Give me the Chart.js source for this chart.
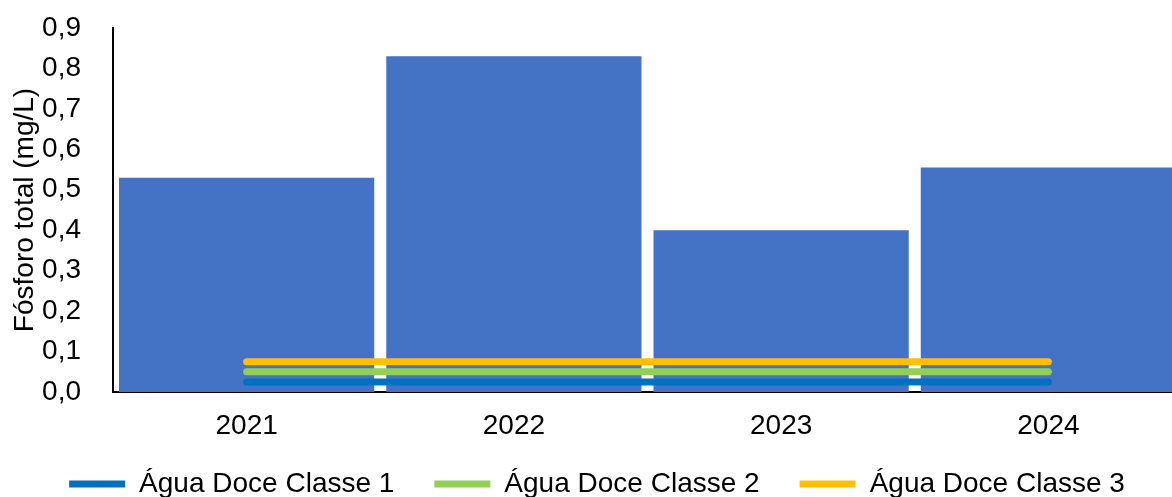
<!DOCTYPE html>
<html>
<head>
<meta charset="utf-8">
<script src="https://cdn.jsdelivr.net/npm/chart.js@4.4.1/dist/chart.umd.min.js"></script>
<style>
  html, body { margin: 0; padding: 0; background: #fff; overflow: hidden; }
  #wrap { width: 1182px; height: 497px; }
</style>
</head>
<body>
<div id="wrap"><canvas id="chart"></canvas></div>
<script>
const years = ['2021', '2022', '2023', '2024']
const fosforo = [0.53, 0.83, 0.40, 0.555]
const classe1 = [0.025, 0.025, 0.025, 0.025]
const classe2 = [0.05, 0.05, 0.05, 0.05]
const classe3 = [0.075, 0.075, 0.075, 0.075]
const yTicks = [0, 0.1, 0.2, 0.3, 0.4, 0.5, 0.6, 0.7, 0.8, 0.9]

const font = 'Liberation Sans, Arial, sans-serif'

const limitLine = (label, data, color) => ({
    type: 'line',
    label,
    data,
    borderColor: color,
    backgroundColor: color,
    borderWidth: 7,
    borderCapStyle: 'round',
    pointRadius: 0,
    pointStyle: 'line',
    order: 0,
})

// legend sits low and tight, like the excel one
const legendPlace = {
    id: 'legendPlace',
    beforeInit(chart) {
        const legend = chart.legend
        const fit = legend.fit
        legend.fit = function () {
            fit.call(this)
            this.height = 55
        }
    },
    afterLayout(chart) {
        const legend = chart.legend
        legend.top -= 12
        legend.left += 6
        legend.right += 6
    },
}

new Chart(document.getElementById('chart'), {
    data: {
        labels: years,
        datasets: [
            {
                type: 'bar',
                label: 'Fósforo total',
                data: fosforo,
                backgroundColor: '#4472C4',
                categoryPercentage: 1,
                barPercentage: 0.955,
                order: 1,
            },
            limitLine('Água Doce Classe 1', classe1, '#0070C0'),
            limitLine('Água Doce Classe 2', classe2, '#92D050'),
            limitLine('Água Doce Classe 3', classe3, '#FFC000'),
        ],
    },
    plugins: [legendPlace],
    options: {
        responsive: true,
        maintainAspectRatio: false,
        animation: false,
        layout: { padding: { top: 28, right: 0, left: 0, bottom: 0 } },
        plugins: {
            tooltip: { enabled: false },
            legend: {
                position: 'bottom',
                labels: {
                    filter: (item) => item.datasetIndex > 0,
                    usePointStyle: true,
                    pointStyleWidth: 56,
                    boxHeight: 7,
                    padding: 40,
                    color: '#000',
                    font: { family: font, size: 28 },
                },
            },
        },
        scales: {
            x: {
                afterFit: (scale) => { scale.height = 50 },
                grid: { display: false },
                border: { display: true, color: '#000', width: 2 },
                ticks: { color: '#000', padding: 9, font: { family: font, size: 28 } },
            },
            y: {
                min: 0,
                max: 0.9,
                afterFit: (scale) => {
                    scale.width = 113
                    scale.paddingTop = 0
                    scale.paddingBottom = 0
                },
                afterBuildTicks: (scale) => { scale.ticks = yTicks.map((v) => ({ value: v })) },
                grid: { display: false },
                border: { display: true, color: '#000', width: 2 },
                ticks: {
                    color: '#000',
                    padding: 24,
                    font: { family: font, size: 28 },
                    callback: (v) => v.toFixed(1).replace('.', ','),
                },
                title: {
                    display: true,
                    text: 'Fósforo total (mg/L)',
                    color: '#000',
                    padding: { top: 8, bottom: 0 },
                    font: { family: font, size: 28 },
                },
            },
        },
    },
})
</script>
</body>
</html>
